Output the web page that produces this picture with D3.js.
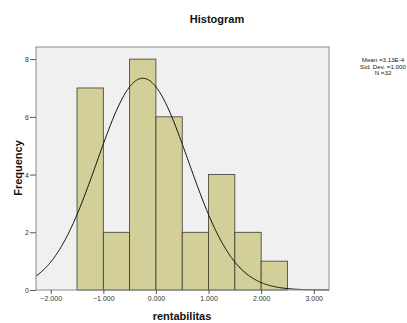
<!DOCTYPE html>
<html>
<head>
<meta charset="utf-8">
<script src="https://cdn.jsdelivr.net/npm/d3@7/dist/d3.min.js"></script>
<style>
  html, body { margin: 0; padding: 0; background: #fff; }
  svg { display: block; }
</style>
</head>
<body>
<svg id="chart" width="407" height="323"></svg>
<script>
// bin edges (rentabilitas) and counts per bin
const binEdges = [-1.5, -1.0, -0.5, 0.0, 0.5, 1.0, 1.5, 2.0, 2.5];
const binCounts = [7, 2, 8, 6, 2, 4, 2, 1];
const xTicks = [-2, -1, 0, 1, 2, 3];
const yTicks = [0, 2, 4, 6, 8];
const statsLines = ['Mean =3.13E-4', 'Std. Dev. =1.000', 'N =32'];
// normal curve as drawn on the picture
const curveMean = -0.25;
const curveSd = 0.87;
const curveN = 32;

const svg = d3.select('#chart');
const font = 'Arial, "Liberation Sans", sans-serif';

const plot = { left: 36, right: 329, top: 47, bottom: 290 };
const x = d3.scaleLinear().domain([-2.28, 3.29]).range([plot.left, plot.right]);
const y = d3.scaleLinear().domain([0, 8.42]).range([plot.bottom, plot.top]);

// title
svg.append('text')
  .attr('x', 217).attr('y', 23)
  .attr('text-anchor', 'middle')
  .style('font-family', font).style('font-size', '11px').style('font-weight', 'bold')
  .style('fill', '#111')
  .text('Histogram');

// plot background
svg.append('rect')
  .attr('x', plot.left).attr('y', plot.top)
  .attr('width', plot.right - plot.left).attr('height', plot.bottom - plot.top)
  .attr('fill', '#f0f0f0');

// bars
const bins = binCounts.map((c, i) => ({ x0: binEdges[i], x1: binEdges[i + 1], count: c }));
svg.append('g').selectAll('rect')
  .data(bins)
  .join('rect')
  .attr('x', d => x(d.x0))
  .attr('y', d => y(d.count))
  .attr('width', d => x(d.x1) - x(d.x0))
  .attr('height', d => y(0) - y(d.count))
  .attr('fill', '#d3cf99')
  .attr('stroke', '#3a3a30')
  .attr('stroke-width', 0.8);

// normal curve
const binW = binEdges[1] - binEdges[0];
const pts = d3.range(0, 301).map(i => {
  const v = x.domain()[0] + (x.domain()[1] - x.domain()[0]) * i / 300;
  const z = (v - curveMean) / curveSd;
  return [v, curveN * binW * Math.exp(-0.5 * z * z) / (curveSd * Math.sqrt(2 * Math.PI))];
});
svg.append('path')
  .datum(pts)
  .attr('d', d3.line().x(d => x(d[0])).y(d => y(d[1])))
  .attr('fill', 'none')
  .attr('stroke', '#111')
  .attr('stroke-width', 1);

// frame
svg.append('rect')
  .attr('x', plot.left).attr('y', plot.top)
  .attr('width', plot.right - plot.left).attr('height', plot.bottom - plot.top)
  .attr('fill', 'none')
  .attr('stroke', '#8a8a8a')
  .attr('stroke-width', 1);

// axes
const xAxis = svg.append('g')
  .attr('transform', `translate(0,${plot.bottom})`)
  .call(d3.axisBottom(x).tickValues(xTicks).tickFormat(d3.format('.3f')).tickSize(4).tickSizeOuter(0));
const yAxis = svg.append('g')
  .attr('transform', `translate(${plot.left},0)`)
  .call(d3.axisLeft(y).tickValues(yTicks).tickSize(6).tickSizeOuter(0).tickPadding(1));

[xAxis, yAxis].forEach(a => {
  a.select('.domain').remove();
  a.selectAll('line').attr('stroke', '#555');
  a.selectAll('text').style('font-family', font).style('font-size', '7px').attr('fill', '#333');
});
xAxis.selectAll('text').attr('dy', '0.9em').attr('y', 5);
yAxis.selectAll('text').attr('dy', '0.35em');

// axis titles
svg.append('text')
  .attr('x', 182).attr('y', 320)
  .attr('text-anchor', 'middle')
  .style('font-family', font).style('font-size', '11px').style('font-weight', 'bold')
  .style('fill', '#111')
  .text('rentabilitas');
svg.append('text')
  .attr('transform', 'translate(22,168) rotate(-90)')
  .attr('text-anchor', 'middle')
  .style('font-family', font).style('font-size', '11px').style('font-weight', 'bold')
  .style('fill', '#111')
  .text('Frequency');

// stats box
svg.append('g').selectAll('text')
  .data(statsLines)
  .join('text')
  .attr('x', 383)
  .attr('y', (d, i) => 62 + i * 6.5)
  .attr('text-anchor', 'middle')
  .style('font-family', font).style('font-size', '6.2px')
  .style('fill', '#222')
  .text(d => d);
</script>
</body>
</html>
